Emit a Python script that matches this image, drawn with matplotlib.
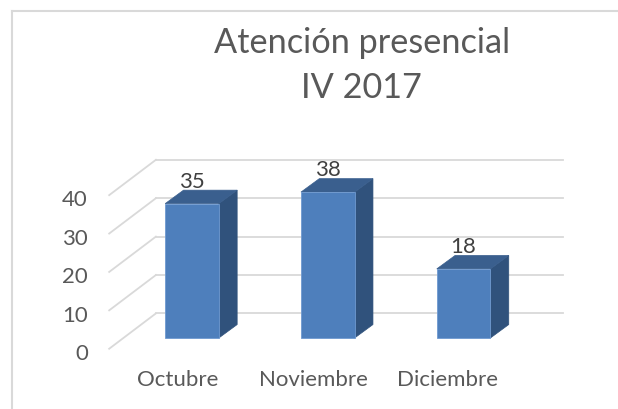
import matplotlib
matplotlib.use("Agg")
import matplotlib.pyplot as plt
from matplotlib.patches import Polygon, Rectangle

months = ["Octubre", "Noviembre", "Diciembre"]
values = [35, 38, 18]
y_ticks = [0, 10, 20, 30, 40]

plt.rcParams['font.family'] = ['Lato', 'DejaVu Sans']

fig = plt.figure(figsize=(6.18, 4.10), dpi=100)
ax = fig.add_axes([0, 0, 1, 1])
ax.set_xlim(-1.414, 3.137)
ax.set_ylim(-18.49, 88.28)
ax.axis("off")

# depth of the fake 3d bars, in data units
bar_w = 0.395
dx = 0.135
dy = 3.5

# gridlines: diagonal on the floor side, then along the back wall
for t in y_ticks:
    ax.plot([-0.610, -0.266], [t - 2.8, t + 6.4], color="#d9d9d9", lw=1.3, zorder=1)
    ax.plot([-0.266, 2.730], [t + 6.4, t + 6.4], color="#d9d9d9", lw=1.3, zorder=1)
    ax.text(-0.766, t - 3.9, str(t), ha="right", va="center", fontsize=16, color="#595959")

for i, v in enumerate(values):
    left = i - bar_w / 2
    right = i + bar_w / 2
    side = [(right, 0), (right + dx, dy), (right + dx, v + dy), (right, v)]
    top = [(left, v), (left + dx, v + dy), (right + dx, v + dy), (right, v)]
    ax.add_patch(Polygon(side, facecolor="#30527c", edgecolor="#30527c", lw=0.5, zorder=2))
    ax.add_patch(Polygon(top, facecolor="#3a5f8e", edgecolor="#3a5f8e", lw=0.5, zorder=2))
    ax.add_patch(Rectangle((left, 0), bar_w, v, facecolor="#4e7fbc", edgecolor="#6f9ad0", lw=0.6, zorder=3))
    ax.text(i, v + dy - 0.1, str(v), ha="center", va="bottom", fontsize=16, color="#404040", zorder=4)

month_x = [-0.105, 0.895, 1.885]
for x, m in zip(month_x, months):
    ax.text(x, -10.8, m, ha="center", va="center", fontsize=16, color="#595959")

ax.text(1.25, 71.2, "Atención presencial\nIV 2017", ha="center", va="center", fontsize=24.7,
        color="#595959", linespacing=1.5)

# chart frame
fig.add_artist(plt.Line2D([11.5 / 618, 11.5 / 618], [0, 1 - 11.5 / 410], color="#d9d9d9", lw=1.5))
fig.add_artist(plt.Line2D([11.5 / 618, 1], [1 - 11.5 / 410, 1 - 11.5 / 410], color="#d9d9d9", lw=1.5))

fig.savefig("out.png", dpi=100)
